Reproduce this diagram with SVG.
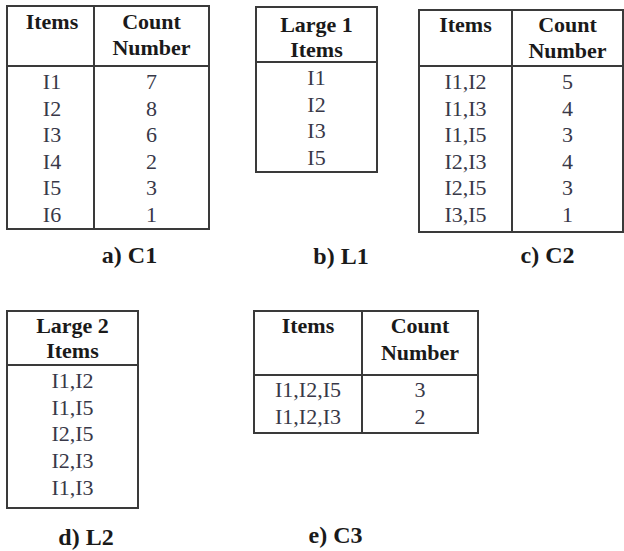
<svg xmlns="http://www.w3.org/2000/svg" width="624" height="551" viewBox="0 0 624 551">
<style>
.bg{fill:#ffffff}
.frame{fill:none;stroke:#3a3a3a;stroke-width:2}
.ln{stroke:#3a3a3a;stroke-width:2}
.h{font-family:"Liberation Serif","Times New Roman",serif;font-weight:bold;font-size:22px;fill:#1a1a1a;text-anchor:middle}
.b{font-family:"Liberation Serif","Times New Roman",serif;font-size:22px;fill:#383848;text-anchor:middle}
.cap{font-family:"Liberation Serif","Times New Roman",serif;font-weight:bold;font-size:24px;fill:#1a1a1a;text-anchor:middle}
</style>
<rect class="bg" x="0" y="0" width="624" height="551"/>

<g id="table-c1">
<rect class="frame" x="7" y="6" width="202" height="223"/>
<line class="ln" x1="94" y1="6" x2="94" y2="229"/>
<line class="ln" x1="7" y1="66" x2="209" y2="66"/>
<text class="h" x="52" y="29">Items</text>
<text class="h" x="151.5" y="29">Count</text>
<text class="h" x="151.5" y="55">Number</text>
<text class="b" x="52" y="89">I1</text><text class="b" x="151.5" y="89">7</text>
<text class="b" x="52" y="115.5">I2</text><text class="b" x="151.5" y="115.5">8</text>
<text class="b" x="52" y="142">I3</text><text class="b" x="151.5" y="142">6</text>
<text class="b" x="52" y="168.5">I4</text><text class="b" x="151.5" y="168.5">2</text>
<text class="b" x="52" y="195">I5</text><text class="b" x="151.5" y="195">3</text>
<text class="b" x="52" y="221.5">I6</text><text class="b" x="151.5" y="221.5">1</text>
<text class="cap" x="129.5" y="263">a) C1</text>
</g>

<g id="table-l1">
<rect class="frame" x="256" y="7" width="121" height="165"/>
<line class="ln" x1="256" y1="62" x2="377" y2="62"/>
<text class="h" x="316.5" y="32">Large 1</text>
<text class="h" x="316.5" y="57">Items</text>
<text class="b" x="316.5" y="85">I1</text>
<text class="b" x="316.5" y="111.5">I2</text>
<text class="b" x="316.5" y="138">I3</text>
<text class="b" x="316.5" y="164.5">I5</text>
<text class="cap" x="341" y="264">b) L1</text>
</g>

<g id="table-c2">
<rect class="frame" x="419" y="10" width="204" height="222"/>
<line class="ln" x1="512" y1="10" x2="512" y2="232"/>
<line class="ln" x1="419" y1="66" x2="623" y2="66"/>
<text class="h" x="465.5" y="32">Items</text>
<text class="h" x="567.5" y="32">Count</text>
<text class="h" x="567.5" y="58">Number</text>
<text class="b" x="465.5" y="89">I1,I2</text><text class="b" x="567.5" y="89">5</text>
<text class="b" x="465.5" y="115.5">I1,I3</text><text class="b" x="567.5" y="115.5">4</text>
<text class="b" x="465.5" y="142">I1,I5</text><text class="b" x="567.5" y="142">3</text>
<text class="b" x="465.5" y="168.5">I2,I3</text><text class="b" x="567.5" y="168.5">4</text>
<text class="b" x="465.5" y="195">I2,I5</text><text class="b" x="567.5" y="195">3</text>
<text class="b" x="465.5" y="221.5">I3,I5</text><text class="b" x="567.5" y="221.5">1</text>
<text class="cap" x="547.5" y="263">c) C2</text>
</g>

<g id="table-l2">
<rect class="frame" x="7" y="311" width="131" height="197"/>
<line class="ln" x1="7" y1="365" x2="138" y2="365"/>
<text class="h" x="72.5" y="333">Large 2</text>
<text class="h" x="72.5" y="358">Items</text>
<text class="b" x="72.5" y="388">I1,I2</text>
<text class="b" x="72.5" y="414.5">I1,I5</text>
<text class="b" x="72.5" y="441">I2,I5</text>
<text class="b" x="72.5" y="468">I2,I3</text>
<text class="b" x="72.5" y="494.5">I1,I3</text>
<text class="cap" x="86" y="545">d) L2</text>
</g>

<g id="table-c3">
<rect class="frame" x="254" y="311" width="224" height="122"/>
<line class="ln" x1="362" y1="311" x2="362" y2="433"/>
<line class="ln" x1="254" y1="375" x2="478" y2="375"/>
<text class="h" x="308" y="333">Items</text>
<text class="h" x="420" y="333">Count</text>
<text class="h" x="420" y="360">Number</text>
<text class="b" x="308" y="397">I1,I2,I5</text><text class="b" x="420" y="397">3</text>
<text class="b" x="308" y="423.5">I1,I2,I3</text><text class="b" x="420" y="423.5">2</text>
<text class="cap" x="335.5" y="543">e) C3</text>
</g>
</svg>
